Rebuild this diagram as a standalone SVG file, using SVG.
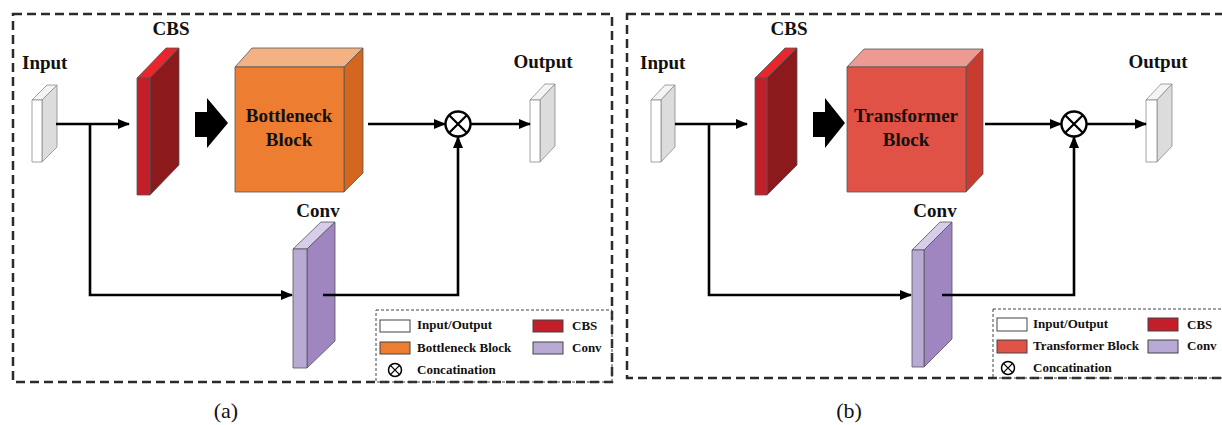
<svg xmlns="http://www.w3.org/2000/svg" width="1222" height="425" viewBox="0 0 1222 425">
  <defs>
    <marker id="arrow" viewBox="0 0 12 10" refX="11" refY="5" markerWidth="12" markerHeight="10" markerUnits="userSpaceOnUse" orient="auto">
      <path d="M0,0 L12,5 L0,10 Z" fill="#000"/>
    </marker>
    <style>
      .frame { fill: none; stroke: #2b2b2b; stroke-width: 2.5; stroke-dasharray: 9 5; }
      .legendframe { fill: none; stroke: #444; stroke-width: 1; stroke-dasharray: 3 2; }
      .edge { fill: none; stroke: #000; stroke-width: 2.6; }
      .head { marker-end: url(#arrow); }
      .slab { stroke: #555; stroke-width: 0.8; stroke-linejoin: round; }
      .io-front { fill: #ffffff; } .io-top { fill: #f4f4f4; } .io-side { fill: #dcdcdc; }
      .io-slab { stroke: #8a8a8a; }
      .cbs-front { fill: #c21f2a; } .cbs-top { fill: #e8262c; } .cbs-side { fill: #8c1a1d; }
      .bn-front { fill: #ed7d31; } .bn-top { fill: #f4b183; } .bn-side { fill: #d4661f; }
      .tf-front { fill: #e05246; } .tf-top { fill: #ec9a92; } .tf-side { fill: #c93a2f; }
      .cv-front { fill: #b8a9d5; } .cv-top { fill: #d6cde9; } .cv-side { fill: #a086c1; }
      .label { font-family: "Liberation Serif", "Times New Roman", serif; font-weight: bold; font-size: 19px; fill: #111; }
      .mid { text-anchor: middle; }
      .legend { font-family: "Liberation Serif", "Times New Roman", serif; font-weight: bold; font-size: 13px; fill: #111; }
      .swatch { stroke: #444; stroke-width: 1; }
      .caption { font-family: "Liberation Serif", "Times New Roman", serif; font-size: 22px; fill: #111; text-anchor: middle; }
      .concat { fill: #fff; stroke: #000; stroke-width: 2.4; }
      .concat-x { stroke: #000; stroke-width: 2.2; }
      .concat-s { fill: #fff; stroke: #000; stroke-width: 1.5; }
      .concat-sx { stroke: #000; stroke-width: 1.3; }
    </style>
  </defs>

  <!-- panel frames -->
  <rect class="frame" x="13" y="14" width="599" height="368"/>
  <rect class="frame" x="627" y="14" width="605" height="364"/>

  <!-- ===== panel (a): CBS + Bottleneck ===== -->
  <g id="a-input">
    <polygon class="slab io-slab io-top" points="32,100 42,100 57,85 47,85"/>
    <polygon class="slab io-slab io-side" points="42,100 57,85 57,147 42,162"/>
    <rect class="slab io-slab io-front" x="32" y="100" width="10" height="62"/>
    <text class="label" x="22" y="69">Input</text>
  </g>

  <g id="a-cbs">
    <polygon class="slab cbs-top" points="137,78 150,78 179,48 166,48"/>
    <polygon class="slab cbs-side" points="150,78 179,48 179,165 150,195"/>
    <rect class="slab cbs-front" x="137" y="78" width="13" height="117"/>
    <text class="label mid" x="171" y="35">CBS</text>
  </g>

  <g id="a-bottleneck">
    <polygon class="slab bn-top" points="235,67 344,67 363,48 252,48"/>
    <polygon class="slab bn-side" points="344,67 363,48 363,173 344,192"/>
    <rect class="slab bn-front" x="235" y="67" width="109" height="125"/>
    <text class="label mid" x="289" y="122">Bottleneck</text>
    <text class="label mid" x="289" y="146">Block</text>
  </g>

  <g id="a-concat">
    <circle class="concat" cx="458" cy="124" r="12.5"/>
    <path class="concat-x" d="M449.2,115.2 L466.8,132.8 M466.8,115.2 L449.2,132.8"/>
  </g>

  <g id="a-output">
    <polygon class="slab io-slab io-top" points="530,100 540,100 555,84 545,84"/>
    <polygon class="slab io-slab io-side" points="540,100 555,84 555,146 540,162"/>
    <rect class="slab io-slab io-front" x="530" y="100" width="10" height="62"/>
    <text class="label mid" x="543" y="68">Output</text>
  </g>

  <g id="a-conv">
    <polygon class="slab cv-top" points="293,249 307,249 335,222 321,222"/>
    <polygon class="slab cv-side" points="307,249 335,222 335,341 307,368"/>
    <rect class="slab cv-front" x="293" y="249" width="14" height="119"/>
    <text class="label mid" x="318" y="217">Conv</text>
  </g>

  <g id="a-legend">
    <rect class="legendframe" x="376" y="310" width="236" height="72"/>
    <rect class="swatch" x="380" y="320" width="30" height="12" fill="#ffffff"/>
    <text class="legend" x="417" y="329">Input/Output</text>
    <rect class="swatch" x="533" y="320" width="30" height="12" fill="#c21f2a"/>
    <text class="legend" x="572" y="330">CBS</text>
    <rect class="swatch" x="380" y="342" width="30" height="12" fill="#ed7d31"/>
    <text class="legend" x="417" y="352">Bottleneck Block</text>
    <rect class="swatch" x="533" y="342" width="30" height="12" fill="#b8a9d5"/>
    <text class="legend" x="572" y="352">Conv</text>
    <circle class="concat-s" cx="395" cy="370" r="6.5"/>
    <path class="concat-sx" d="M390.4,365.4 L399.6,374.6 M399.6,365.4 L390.4,374.6"/>
    <text class="legend" x="417" y="374">Concatination</text>
  </g>

  <!-- ===== panel (b): CBS + Transformer ===== -->
  <g id="b-input">
    <polygon class="slab io-slab io-top" points="651,100 661,100 675,85 665,85"/>
    <polygon class="slab io-slab io-side" points="661,100 675,85 675,147 661,162"/>
    <rect class="slab io-slab io-front" x="651" y="100" width="10" height="62"/>
    <text class="label" x="640" y="69">Input</text>
  </g>

  <g id="b-cbs">
    <polygon class="slab cbs-top" points="755,78 767,78 797,48 785,48"/>
    <polygon class="slab cbs-side" points="767,78 797,48 797,165 767,195"/>
    <rect class="slab cbs-front" x="755" y="78" width="12" height="117"/>
    <text class="label mid" x="789" y="35">CBS</text>
  </g>

  <g id="b-transformer">
    <polygon class="slab tf-top" points="847,67 966,67 983,49 864,49"/>
    <polygon class="slab tf-side" points="966,67 983,49 983,174 966,192"/>
    <rect class="slab tf-front" x="847" y="67" width="119" height="125"/>
    <text class="label mid" x="906" y="122">Transformer</text>
    <text class="label mid" x="906" y="146">Block</text>
  </g>

  <g id="b-concat">
    <circle class="concat" cx="1074" cy="124" r="12.5"/>
    <path class="concat-x" d="M1065.2,115.2 L1082.8,132.8 M1082.8,115.2 L1065.2,132.8"/>
  </g>

  <g id="b-output">
    <polygon class="slab io-slab io-top" points="1146,100 1157,100 1172,84 1161,84"/>
    <polygon class="slab io-slab io-side" points="1157,100 1172,84 1172,146 1157,162"/>
    <rect class="slab io-slab io-front" x="1146" y="100" width="11" height="62"/>
    <text class="label mid" x="1158" y="68">Output</text>
  </g>

  <g id="b-conv">
    <polygon class="slab cv-top" points="912,250 924,250 952,222 940,222"/>
    <polygon class="slab cv-side" points="924,250 952,222 952,339 924,367"/>
    <rect class="slab cv-front" x="912" y="250" width="12" height="117"/>
    <text class="label mid" x="935" y="217">Conv</text>
  </g>

  <g id="b-legend">
    <rect class="legendframe" x="993" y="309" width="240" height="69"/>
    <rect class="swatch" x="997" y="318" width="30" height="13" fill="#ffffff"/>
    <text class="legend" x="1033" y="328">Input/Output</text>
    <rect class="swatch" x="1148" y="318" width="30" height="13" fill="#c21f2a"/>
    <text class="legend" x="1187" y="329">CBS</text>
    <rect class="swatch" x="997" y="340" width="30" height="13" fill="#e05246"/>
    <text class="legend" x="1033" y="350">Transformer Block</text>
    <rect class="swatch" x="1148" y="340" width="30" height="13" fill="#b8a9d5"/>
    <text class="legend" x="1187" y="350">Conv</text>
    <circle class="concat-s" cx="1008" cy="368" r="6.5"/>
    <path class="concat-sx" d="M1003.4,363.4 L1012.6,372.6 M1012.6,363.4 L1003.4,372.6"/>
    <text class="legend" x="1033" y="372">Concatination</text>
  </g>

  <!-- connectors -->
  <g id="connectors">
    <!-- panel (a) -->
    <line class="edge head" x1="56" y1="124" x2="129" y2="124"/>
    <polyline class="edge head" points="90,124 90,295 292,295"/>
    <polygon points="195,112 207,112 207,98 228,123 207,148 207,137 195,137" fill="#000"/>
    <line class="edge head" x1="368" y1="124" x2="445" y2="124"/>
    <line class="edge head" x1="471" y1="124" x2="530" y2="124"/>
    <polyline class="edge head" points="323,295 458,295 458,137"/>
    <!-- panel (b) -->
    <line class="edge head" x1="675" y1="124" x2="747" y2="124"/>
    <polyline class="edge head" points="709,124 709,295 911,295"/>
    <polygon points="813,112 825,112 825,98 845,123 825,148 825,137 813,137" fill="#000"/>
    <line class="edge head" x1="985" y1="124" x2="1061" y2="124"/>
    <line class="edge head" x1="1087" y1="124" x2="1146" y2="124"/>
    <polyline class="edge head" points="942,295 1074,295 1074,137"/>
  </g>

  <!-- captions -->
  <text class="caption" x="226" y="418">(a)</text>
  <text class="caption" x="849" y="418">(b)</text>
</svg>
